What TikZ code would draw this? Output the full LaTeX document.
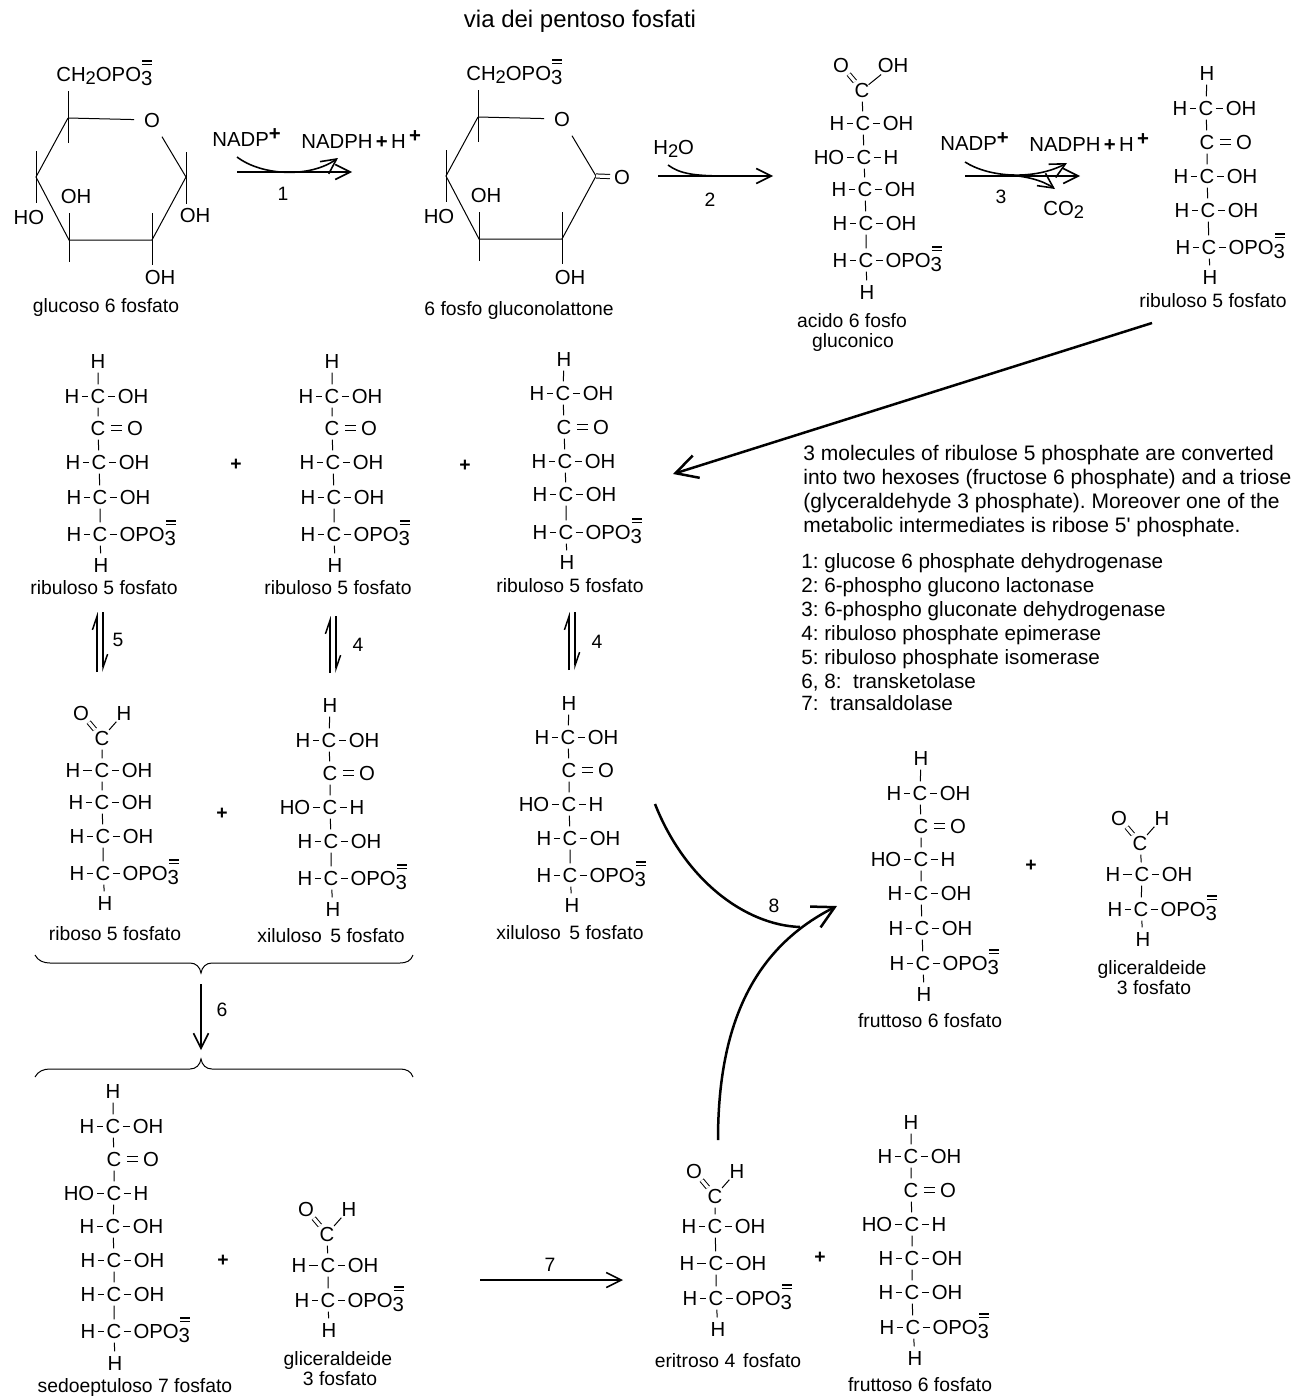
\documentclass[tikz,border=0pt]{standalone}
\usepackage{fontspec}
\setmainfont[Ligatures=TeXOff]{Liberation Sans}
\usetikzlibrary{arrows.meta}
\newcommand{\chemfont}{\fontsize{11.6pt}{14pt}\selectfont}
\newcommand{\atomfont}{\fontsize{12.2pt}{14pt}\selectfont}
\newcommand{\opothree}{OPO\raisebox{-2.4pt}{3}\llap{\rlap{\rule[9.6pt]{6pt}{0.8pt}}\rule[11.9pt]{6pt}{0.8pt}}}
\newcommand{\subtwo}{\raisebox{-2pt}{\fontsize{11pt}{12pt}\selectfont 2}}
\newcommand{\suppl}{\raisebox{3.5pt}{\bfseries +}}
\tikzset{
    caption/.style={font=\chemfont, inner sep=0pt, text height=8.4pt, text depth=0pt},
    reagent/.style={caption, font=\atomfont, text height=8.8pt},
    atom/.style={reagent, outer xsep=1.5pt, outer ysep=2.6pt},
    bond/.style={line width=0.6pt},
    dbond/.style={bond, double, double distance=1.9pt},
    plusmark/.style={caption, font=\chemfont\bfseries},
    notetext/.style={caption, anchor=west, font=\fontsize{12.6pt}{14pt}\selectfont\frenchspacing},
    listtext/.style={notetext, font=\fontsize{12.4pt}{14pt}\selectfont\frenchspacing},
    rxn/.style={line width=0.95pt, -{Straight Barb[length=9pt,width=9pt]}},
    bigrxn/.style={line width=1.5pt, -{Straight Barb[length=13pt,width=14pt]}},
    eqline/.style={line width=0.9pt, -{Straight Barb[harpoon,length=8pt,width=5.5pt]}},
}
% one carbon of a chain with what hangs on it
\newcommand{\hcoh}[4][26]{
    \node[atom] (#2) at (#3,#4) {C};
    \node[atom] (#2l) at (#3-#1,#4) {H};
    \node[atom] (#2r) at (#3+35,#4) {OH};
    \draw[bond] (#2l) -- (#2) -- (#2r);
}
\newcommand{\hoch}[3]{
    \node[atom] (#1) at (#2,#3) {C};
    \node[atom] (#1l) at (#2-35,#3) {HO};
    \node[atom] (#1r) at (#2+27,#3) {H};
    \draw[bond] (#1l) -- (#1) -- (#1r);
}
\newcommand{\keto}[3]{
    \node[atom] (#1) at (#2,#3) {C};
    \node[atom] (#1r) at (#2+37,#3) {O};
    \draw[dbond, shorten <=1.8pt, shorten >=1.8pt] (#1) -- (#1r);
}
\newcommand{\phos}[3]{
    \node[atom] (#1) at (#2,#3) {C};
    \node[atom] (#1l) at (#2-26,#3) {H};
    \node[atom, anchor=west] (#1r) at (#2+17,#3) {\opothree};
    \draw[bond] (#1l) -- (#1) -- (#1r);
}
\newcommand{\aldehyde}[5][22]{
    \node[atom] (#2) at (#3,#4) {C};
    \node[atom] (#2l) at (#3-21,#4-25) {O};
    \node[atom] (#2r) at (#3+#1,#4-25) {#5};
    \draw[dbond, shorten <=-2.5pt, shorten >=-2pt] (#2) -- (#2l);
    \draw[bond, shorten <=-2.5pt, shorten >=-2pt] (#2) -- (#2r);
}
% the part that both rings share
\newcommand{\sugarring}[1]{
    \coordinate (#1c5) at (68,118);
    \coordinate (#1c4) at (36,177);
    \coordinate (#1c3) at (69,240);
    \coordinate (#1c2) at (152,240);
    \coordinate (#1c1) at (186,177);
    \node[atom] (#1o) at (152,120) {O};
    \draw[bond, shorten >=4.5pt] (#1c5) -- (#1o);
    \draw[bond, shorten <=3.5pt] (#1o) -- (#1c1);
    \draw[bond] (#1c1) -- (#1c2) -- (#1c3) -- (#1c4) -- (#1c5);
    \draw[bond] (#1c5) -- ++(0,-27) (#1c5) -- ++(0,25);
    \draw[bond] (#1c4) -- ++(0,-26) (#1c4) -- ++(0,26);
    \draw[bond] (#1c3) -- ++(0,-27) (#1c3) -- ++(0,22);
    \draw[bond] (#1c2) -- ++(0,-27) (#1c2) -- ++(0,25);
}
% equilibrium: two half headed lines
\newcommand{\eqarrows}[4]{
    \coordinate (#1a) at (#2,#3);
    \coordinate (#1b) at (#2,#4);
    \coordinate (#1c) at (#2+6,#3);
    \coordinate (#1d) at (#2+6,#4);
    \draw[eqline] (#1b) -- (#1a);
    \draw[eqline] (#1c) -- (#1d);
}
\begin{document}
\begin{tikzpicture}[x=0.6pt, y=-0.6pt]
    \useasboundingbox (0,0) rectangle (1300,1400);
    \node[caption, font=\fontsize{14.4pt}{16pt}\selectfont] (title) at (580,20) {via dei pentoso fosfati};

    % glucoso 6 fosfato
    \sugarring{gl}
    \draw[bond] (glc1) -- ++(0,-25) (glc1) -- ++(0,27);
    \node[reagent, anchor=west] (glch) at (56,74) {CH\subtwo\opothree};
    \node[reagent] (gloh) at (76,196) {OH};
    \node[reagent] (glho) at (29,217) {HO};
    \node[reagent] (gloha) at (195,215) {OH};
    \node[reagent] (glohb) at (160,277) {OH};
    \node[caption] (glname) at (106,305) {glucoso 6 fosfato};

    % 6 fosfo gluconolattone
    \begin{scope}[shift={(410,-1)}]
        \sugarring{la}
        \node[atom] (lao2) at (212,178) {O};
        \draw[dbond, shorten >=1pt] (lac1) -- (lao2);
    \end{scope}
    \node[reagent, anchor=west] (lach) at (466,73) {CH\subtwo\opothree};
    \node[reagent] (laoh) at (486,195) {OH};
    \node[reagent] (laho) at (439,216) {HO};
    \node[reagent] (laoha) at (570,277) {OH};
    \node[caption] (laname) at (519,308) {6 fosfo gluconolattone};

    % acido 6 fosfo gluconico
    \aldehyde[31]{ac0}{862}{90}{OH}
    \hcoh{ac1}{863}{123}
    \hoch{ac2}{864}{157}
    \hcoh{ac3}{865}{189}
    \hcoh{ac4}{866}{223}
    \phos{ac5}{866}{260}
    \node[atom] (ac6) at (867,292) {H};
    \draw[bond] (ac0) -- (ac1) -- (ac2) -- (ac3) -- (ac4) -- (ac5) -- (ac6);
    \node[caption] (acname) at (852,320) {acido 6 fosfo};
    \node[caption] (acnameb) at (853,340) {gluconico};

    % ribuloso 5 fosfato, up right
    \node[atom] (ru0) at (1207,73) {H};
    \hcoh{ru1}{1206}{108}
    \keto{ru2}{1207}{142}
    \hcoh{ru3}{1207}{176}
    \hcoh{ru4}{1208}{210}
    \phos{ru5}{1209}{247}
    \node[atom] (ru6) at (1210,277) {H};
    \draw[bond] (ru0) -- (ru1) -- (ru2) -- (ru3) -- (ru4) -- (ru5) -- (ru6);
    \node[caption] (runame) at (1213,300) {ribuloso 5 fosfato};

    % first row of reactions
    \node[reagent, anchor=west] (nadpa) at (212,139) {NADP\suppl};
    \node[reagent, anchor=west] (nadpha) at (301,141) {NADPH\,\textbf{+}\,H\,\suppl};
    \coordinate (ra1) at (237,172);
    \coordinate (rb1) at (352,172);
    \coordinate (ca1) at (237,157);
    \coordinate (cb1) at (338,158);
    \draw[rxn] (ra1) -- (rb1);
    \draw[rxn] (ca1) .. controls (262,176) and (310,178) .. (cb1);
    \node[caption] (num1) at (283,193) {1};

    \node[reagent, anchor=west] (watr) at (653,147) {H\subtwo O};
    \coordinate (ra2) at (658,176);
    \coordinate (rb2) at (773,176);
    \coordinate (ca2) at (668,165);
    \coordinate (cb2) at (727,176);
    \draw[rxn] (ra2) -- (rb2);
    \draw[line width=0.95pt] (ca2) .. controls (680,174) and (695,176) .. (cb2);
    \node[caption] (num2) at (710,199) {2};

    \node[reagent, anchor=west] (nadpb) at (940,143) {NADP\suppl};
    \node[reagent, anchor=west] (nadphb) at (1029,144) {NADPH\,\textbf{+}\,H\,\suppl};
    \coordinate (ra3) at (965,176);
    \coordinate (rb3) at (1080,176);
    \coordinate (ca3) at (965,162);
    \coordinate (cb3) at (1067,163);
    \coordinate (cc3) at (1007,175);
    \coordinate (cd3) at (1055,189);
    \draw[rxn] (ra3) -- (rb3);
    \draw[rxn] (ca3) .. controls (990,178) and (1035,180) .. (cb3);
    \draw[rxn] (cc3) .. controls (1025,176) and (1042,180) .. (cd3);
    \node[caption] (num3) at (1001,196) {3};
    \node[reagent, anchor=west] (cotwo) at (1043,208) {CO\subtwo};

    % long arrow down to the second row
    \coordinate (longa) at (1152,323);
    \coordinate (longb) at (673,474);
    \draw[bigrxn] (longa) -- (longb);

    % three ribuloso 5 fosfato
    \node[atom] (ra0) at (98,361) {H};
    \hcoh{ra1c}{98}{396}
    \keto{ra2c}{98}{428}
    \hcoh{ra3c}{99}{462}
    \hcoh{ra4c}{100}{497}
    \phos{ra5c}{100}{534}
    \node[atom] (ra6c) at (101,565) {H};
    \draw[bond] (ra0) -- (ra1c) -- (ra2c) -- (ra3c) -- (ra4c) -- (ra5c) -- (ra6c);
    \node[caption] (raname) at (104,587) {ribuloso 5 fosfato};
    \node[plusmark] (plusa) at (236,463) {+};

    \node[atom] (rb0) at (332,361) {H};
    \hcoh{rb1c}{332}{396}
    \keto{rb2c}{332}{428}
    \hcoh{rb3c}{333}{462}
    \hcoh{rb4c}{334}{497}
    \phos{rb5c}{334}{534}
    \node[atom] (rb6c) at (335,565) {H};
    \draw[bond] (rb0) -- (rb1c) -- (rb2c) -- (rb3c) -- (rb4c) -- (rb5c) -- (rb6c);
    \node[caption] (rbname) at (338,587) {ribuloso 5 fosfato};
    \node[plusmark] (plusb) at (465,464) {+};

    \node[atom] (rc0) at (564,359) {H};
    \hcoh{rc1c}{563}{393}
    \keto{rc2c}{564}{427}
    \hcoh{rc3c}{565}{461}
    \hcoh{rc4c}{566}{494}
    \phos{rc5c}{566}{532}
    \node[atom] (rc6c) at (567,562) {H};
    \draw[bond] (rc0) -- (rc1c) -- (rc2c) -- (rc3c) -- (rc4c) -- (rc5c) -- (rc6c);
    \node[caption] (rcname) at (570,585) {ribuloso 5 fosfato};

    % equilibria
    \eqarrows{eqa}{97}{612}{672}
    \node[caption] (num5) at (118,639) {5};
    \eqarrows{eqb}{330}{616}{673}
    \node[caption] (num4a) at (358,644) {4};
    \eqarrows{eqc}{569}{612}{670}
    \node[caption] (num4b) at (597,641) {4};

    % notes
    \node[notetext] (notea) at (803,453) {3 molecules of ribulose 5 phosphate are converted};
    \node[notetext] (noteb) at (803,477) {into two hexoses (fructose 6 phosphate) and a triose};
    \node[notetext] (notec) at (803,501) {(glyceraldehyde 3 phosphate). Moreover one of the};
    \node[notetext] (noted) at (803,525) {metabolic intermediates is ribose 5' phosphate.};
    \node[listtext] (lista) at (801,561) {1: glucose 6 phosphate dehydrogenase};
    \node[listtext] (listb) at (801,585) {2: 6-phospho glucono lactonase};
    \node[listtext] (listc) at (801,609) {3: 6-phospho gluconate dehydrogenase};
    \node[listtext] (listd) at (801,633) {4: ribuloso phosphate epimerase};
    \node[listtext] (liste) at (801,657) {5: ribuloso phosphate isomerase};
    \node[listtext] (listf) at (801,681) {6, 8:\ \ transketolase};
    \node[listtext] (listg) at (801,703) {7:\ \ transaldolase};

    % riboso 5 fosfato
    \aldehyde{ri0}{102}{738}{H}
    \hcoh[29]{ri1}{102}{770}
    \hcoh{ri2}{102}{802}
    \hcoh{ri3}{103}{836}
    \phos{ri4}{103}{873}
    \node[atom] (ri5) at (105,903) {H};
    \draw[bond] (ri0) -- (ri1) -- (ri2) -- (ri3) -- (ri4) -- (ri5);
    \node[caption] (riname) at (115,933) {riboso 5 fosfato};
    \node[plusmark] (plusc) at (222,812) {+};

    % xiluloso 5 fosfato, left
    \node[atom] (xa0) at (330,705) {H};
    \hcoh{xa1}{329}{740}
    \keto{xa2}{330}{773}
    \hoch{xa3}{330}{807}
    \hcoh{xa4}{331}{841}
    \phos{xa5}{331}{878}
    \node[atom] (xa6) at (333,909) {H};
    \draw[bond] (xa0) -- (xa1) -- (xa2) -- (xa3) -- (xa4) -- (xa5) -- (xa6);
    \node[caption] (xaname) at (331,935) {xiluloso\,\ 5 fosfato};

    % xiluloso 5 fosfato, middle
    \node[atom] (xb0) at (569,703) {H};
    \hcoh{xb1}{568}{737}
    \keto{xb2}{569}{770}
    \hoch{xb3}{569}{804}
    \hcoh{xb4}{570}{838}
    \phos{xb5}{570}{875}
    \node[atom] (xb6) at (572,905) {H};
    \draw[bond] (xb0) -- (xb1) -- (xb2) -- (xb3) -- (xb4) -- (xb5) -- (xb6);
    \node[caption] (xbname) at (570,932) {xiluloso\,\ 5 fosfato};

    % fruttoso 6 fosfato, right
    \node[atom] (fa0) at (921,758) {H};
    \hcoh{fa1}{920}{793}
    \keto{fa2}{921}{826}
    \hoch{fa3}{921}{859}
    \hcoh{fa4}{921}{893}
    \hcoh{fa5}{922}{928}
    \phos{fa6}{923}{963}
    \node[atom] (fa7) at (924,994) {H};
    \draw[bond] (fa0) -- (fa1) -- (fa2) -- (fa3) -- (fa4) -- (fa5) -- (fa6) -- (fa7);
    \node[caption] (faname) at (930,1020) {fruttoso 6 fosfato};
    \node[plusmark] (plusd) at (1031,864) {+};

    % gliceraldeide 3 fosfato, right
    \aldehyde{ga0}{1140}{843}{H}
    \hcoh[29]{ga1}{1142}{874}
    \phos{ga2}{1141}{909}
    \node[atom] (ga3) at (1143,939) {H};
    \draw[bond] (ga0) -- (ga1) -- (ga2) -- (ga3);
    \node[caption] (ganame) at (1152,967) {gliceraldeide};
    \node[caption] (ganameb) at (1154,987) {3 fosfato};

    % reaction 8
    \coordinate (xiend) at (655,804);
    \coordinate (join) at (800,927);
    \coordinate (eriend) at (718,1140);
    \coordinate (frtip) at (837,906);
    \draw[line width=1.5pt] (xiend) .. controls (685,880) and (745,925) .. (join);
    \draw[bigrxn] (eriend) .. controls (718,1030) and (750,950) .. (frtip);
    \node[caption] (num8) at (774,905) {8};

    % braces and reaction 6
    \draw[bond] (35,955) .. controls (38,961) and (44,963) .. (50,963) -- (190,963)
        .. controls (196,963) and (200,967) .. (201,973)
        .. controls (202,967) and (206,963) .. (212,963) -- (400,963)
        .. controls (406,963) and (411,961) .. (413,955);
    \draw[bond] (35,1077) .. controls (38,1071) and (44,1069) .. (50,1069) -- (190,1069)
        .. controls (196,1069) and (200,1065) .. (201,1059)
        .. controls (202,1065) and (206,1069) .. (212,1069) -- (400,1069)
        .. controls (406,1069) and (411,1071) .. (413,1077);
    \coordinate (ra6) at (201,984);
    \coordinate (rb6) at (201,1050);
    \draw[rxn] (ra6) -- (rb6);
    \node[caption] (num6) at (222,1009) {6};

    % sedoeptuloso 7 fosfato
    \node[atom] (se0) at (113,1091) {H};
    \hcoh{se1}{113}{1126}
    \keto{se2}{114}{1159}
    \hoch{se3}{114}{1193}
    \hcoh{se4}{113}{1226}
    \hcoh{se5}{114}{1260}
    \hcoh{se6}{114}{1294}
    \phos{se7}{114}{1331}
    \node[atom] (se8) at (115,1363) {H};
    \draw[bond] (se0) -- (se1) -- (se2) -- (se3) -- (se4) -- (se5) -- (se6) -- (se7) -- (se8);
    \node[caption] (sename) at (135,1385) {sedoeptuloso 7 fosfato};
    \node[plusmark] (pluse) at (223,1259) {+};

    % gliceraldeide 3 fosfato, left
    \aldehyde{gb0}{327}{1234}{H}
    \hcoh[29]{gb1}{328}{1265}
    \phos{gb2}{328}{1300}
    \node[atom] (gb3) at (329,1330) {H};
    \draw[bond] (gb0) -- (gb1) -- (gb2) -- (gb3);
    \node[caption] (gbname) at (338,1358) {gliceraldeide};
    \node[caption] (gbnameb) at (340,1378) {3 fosfato};

    % reaction 7
    \coordinate (ra7) at (480,1280);
    \coordinate (rb7) at (623,1280);
    \draw[rxn] (ra7) -- (rb7);
    \node[caption] (num7) at (550,1264) {7};

    % eritroso 4 fosfato
    \aldehyde{er0}{715}{1196}{H}
    \hcoh{er1}{715}{1226}
    \hcoh[29]{er2}{716}{1263}
    \phos{er3}{716}{1298}
    \node[atom] (er4) at (718,1329) {H};
    \draw[bond] (er0) -- (er1) -- (er2) -- (er3) -- (er4);
    \node[caption] (ername) at (728,1360) {eritroso 4\kern1.5pt\ fosfato};
    \node[plusmark] (plusf) at (820,1256) {+};

    % fruttoso 6 fosfato, down
    \node[atom] (fb0) at (911,1122) {H};
    \hcoh{fb1}{911}{1156}
    \keto{fb2}{911}{1190}
    \hoch{fb3}{912}{1224}
    \hcoh{fb4}{912}{1258}
    \hcoh{fb5}{912}{1292}
    \phos{fb6}{913}{1327}
    \node[atom] (fb7) at (915,1358) {H};
    \draw[bond] (fb0) -- (fb1) -- (fb2) -- (fb3) -- (fb4) -- (fb5) -- (fb6) -- (fb7);
    \node[caption] (fbname) at (920,1384) {fruttoso 6 fosfato};
\end{tikzpicture}
\end{document}
